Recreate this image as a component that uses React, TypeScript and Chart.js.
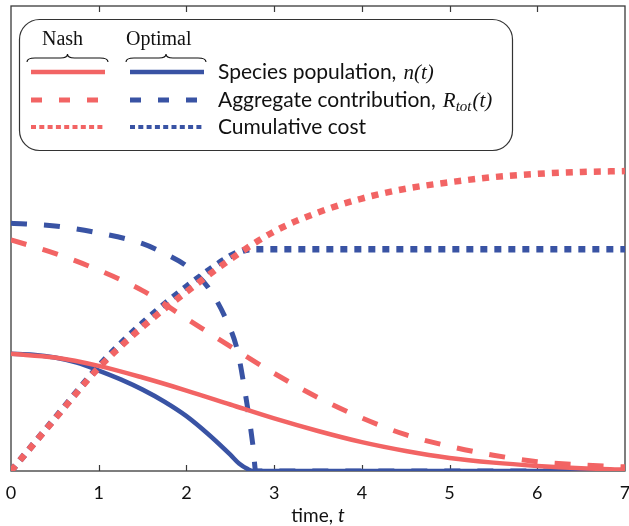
import { useEffect, useRef } from 'react';
import { Chart, registerables } from 'chart.js';

Chart.register(...registerables);

const RED = '#F26464';
const BLUE = '#3953A4';

const xTicks = [0, 1, 2, 3, 4, 5, 6, 7];

const tNashPop = [0, 0.5, 1, 1.5, 2, 2.5, 3, 3.5, 4, 4.5, 5, 5.5, 6, 6.5, 7];
const nashPop = [0.252, 0.244, 0.226, 0.201, 0.173, 0.143, 0.113, 0.086, 0.062, 0.043, 0.028, 0.018, 0.011, 0.006, 0.003];

const tOptPop = [0, 0.25, 0.5, 0.75, 1, 1.25, 1.5, 1.75, 2, 2.25, 2.5, 2.6, 2.7, 2.76, 3, 7];
const optPop = [0.252, 0.25, 0.244, 0.233, 0.216, 0.197, 0.175, 0.149, 0.118, 0.079, 0.035, 0.016, 0.004, 0, 0, 0];

const tNashR = [0, 0.5, 1, 1.5, 2, 2.5, 3, 3.5, 4, 4.5, 5, 5.5, 6, 6.5, 7];
const nashR = [0.497, 0.468, 0.432, 0.388, 0.328, 0.268, 0.21, 0.158, 0.114, 0.078, 0.053, 0.034, 0.02, 0.013, 0.009];

const tOptR = [0, 0.5, 1, 1.5, 1.75, 2, 2.25, 2.45, 2.58, 2.67, 2.76, 2.79, 3, 7];
const optR = [0.533, 0.527, 0.512, 0.489, 0.468, 0.441, 0.394, 0.327, 0.26, 0.168, 0.052, 0, 0, 0];

const tNashCost = [0, 0.5, 1, 1.5, 2, 2.5, 3, 3.5, 4, 4.5, 5, 5.5, 6, 6.5, 7];
const nashCost = [0, 0.112, 0.222, 0.31, 0.385, 0.455, 0.515, 0.556, 0.586, 0.607, 0.621, 0.632, 0.639, 0.643, 0.645];

const tOptCost = [0, 0.5, 1, 1.5, 2, 2.5, 2.6, 2.73, 3, 7];
const optCost = [0, 0.113, 0.225, 0.318, 0.396, 0.462, 0.471, 0.477, 0.477, 0.477];

const toPts = (ts: number[], vs: number[]) => ts.map((t, i) => ({ x: t, y: vs[i] }));

const SANS = 'Lato, "Open Sans", sans-serif';
const SERIF = '"Liberation Serif", "DejaVu Serif", serif';

function brace(ctx: CanvasRenderingContext2D, x1: number, x2: number, yTop: number, yBot: number) {
  const yMid = (yTop + yBot) / 2;
  const xc = (x1 + x2) / 2;
  ctx.beginPath();
  ctx.moveTo(x1, yBot);
  ctx.quadraticCurveTo(x1, yMid, x1 + 8, yMid);
  ctx.lineTo(xc - 7, yMid);
  ctx.quadraticCurveTo(xc, yMid, xc, yTop);
  ctx.quadraticCurveTo(xc, yMid, xc + 7, yMid);
  ctx.lineTo(x2 - 8, yMid);
  ctx.quadraticCurveTo(x2, yMid, x2, yBot);
  ctx.stroke();
}

function sample(ctx: CanvasRenderingContext2D, x1: number, x2: number, y: number, color: string, w: number, dash: number[]) {
  ctx.beginPath();
  ctx.strokeStyle = color;
  ctx.lineWidth = w;
  ctx.lineCap = 'butt';
  ctx.setLineDash(dash);
  ctx.moveTo(x1, y);
  ctx.lineTo(x2, y);
  ctx.stroke();
  ctx.setLineDash([]);
}

const framePlugin = {
  id: 'frame',
  beforeDatasetsDraw(chart: any) {
    const { ctx, chartArea: a, scales } = chart;
    const x = scales.x;
    ctx.save();
    ctx.strokeStyle = '#3a3a3a';
    ctx.lineWidth = 1.3;
    ctx.strokeRect(a.left, a.top, a.right - a.left, a.bottom - a.top);
    ctx.lineWidth = 1.2;
    for (const v of xTicks) {
      if (v === xTicks[0] || v === xTicks[xTicks.length - 1]) continue;
      const px = Math.round(x.getPixelForValue(v)) + 0.5;
      ctx.beginPath();
      ctx.moveTo(px, a.bottom);
      ctx.lineTo(px, a.bottom - 6);
      ctx.moveTo(px, a.top);
      ctx.lineTo(px, a.top + 6);
      ctx.stroke();
    }
    ctx.restore();
  },
  afterDraw(chart: any) {
    const { ctx } = chart;
    ctx.save();
    ctx.beginPath();
    ctx.roundRect(19.5, 19.5, 493, 131, 20);
    ctx.fillStyle = '#ffffff';
    ctx.fill();
    ctx.strokeStyle = '#333';
    ctx.lineWidth = 1.2;
    ctx.stroke();

    ctx.fillStyle = '#111';
    ctx.textBaseline = 'alphabetic';
    ctx.font = `20px ${SERIF}`;
    ctx.fillText('Nash', 42, 45);
    ctx.fillText('Optimal', 126, 45);
    ctx.strokeStyle = '#111';
    ctx.lineWidth = 1.1;
    brace(ctx, 27, 108, 54, 62);
    brace(ctx, 126, 206, 54, 62);

    sample(ctx, 31, 105, 72, RED, 4.5, []);
    sample(ctx, 130, 204, 72, BLUE, 4.5, []);
    sample(ctx, 31, 105, 100, RED, 5, [11, 17]);
    sample(ctx, 130, 204, 100, BLUE, 5, [11, 17]);
    sample(ctx, 31, 105, 127, RED, 4, [5, 3.3]);
    sample(ctx, 130, 204, 127, BLUE, 4, [5, 3.3]);

    const tx = 218;
    const SANSF = `21px ${SANS}`;
    const MATH = `italic 21px ${SERIF}`;
    ctx.fillStyle = '#111';
    ctx.font = SANSF;
    const s1 = 'Species population,';
    ctx.fillText(s1, tx, 79);
    let w = ctx.measureText(s1).width + 7;
    ctx.font = MATH;
    ctx.fillText('n(t)', tx + w, 79);

    ctx.font = SANSF;
    const s2 = 'Aggregate contribution,';
    ctx.fillText(s2, tx, 107);
    w = ctx.measureText(s2).width + 7;
    ctx.font = MATH;
    ctx.fillText('R', tx + w, 107);
    w += ctx.measureText('R').width;
    ctx.font = `italic 15px ${SERIF}`;
    ctx.fillText('tot', tx + w, 111);
    w += ctx.measureText('tot').width + 1;
    ctx.font = MATH;
    ctx.fillText('(t)', tx + w, 107);

    ctx.font = SANSF;
    ctx.fillText('Cumulative cost', tx, 134);

    ctx.font = `19px ${SANS}`;
    const a1 = 'time, ';
    const wa = ctx.measureText(a1).width;
    ctx.font = `italic 19px ${SANS}`;
    const wb = ctx.measureText('t').width;
    const cx = (chart.chartArea.left + chart.chartArea.right) / 2;
    const start = cx - (wa + wb) / 2;
    ctx.font = `19px ${SANS}`;
    ctx.fillText(a1, start, 522);
    ctx.font = `italic 19px ${SANS}`;
    ctx.fillText('t', start + wa, 522);
    ctx.restore();
  },
};

export default function App() {
  const ref = useRef<HTMLCanvasElement | null>(null);

  useEffect(() => {
    document.body.style.margin = '0';
    const canvas = ref.current;
    if (!canvas) return;
    const common = { pointRadius: 0, fill: false, cubicInterpolationMode: 'monotone' as const, borderCapStyle: 'butt' as const };
    const chart = new Chart(canvas, {
      type: 'line',
      data: {
        datasets: [
          { ...common, label: 'Nash cumulative cost', data: toPts(tNashCost, nashCost), borderColor: RED, borderWidth: 6.5, borderDash: [7, 7] },
          { ...common, label: 'Nash species population', data: toPts(tNashPop, nashPop), borderColor: RED, borderWidth: 4.5 },
          { ...common, label: 'Nash aggregate contribution', data: toPts(tNashR, nashR), borderColor: RED, borderWidth: 5, borderDash: [16, 17] },
          { ...common, label: 'Optimal aggregate contribution', data: toPts(tOptR, optR), borderColor: BLUE, borderWidth: 5, borderDash: [16, 17] },
          { ...common, label: 'Optimal species population', data: toPts(tOptPop, optPop), borderColor: BLUE, borderWidth: 4.5 },
          { ...common, label: 'Optimal cumulative cost', data: toPts(tOptCost, optCost), borderColor: BLUE, borderWidth: 6.5, borderDash: [7, 7] },
        ],
      },
      options: {
        responsive: false,
        animation: false,
        layout: { padding: { left: 11, right: 4, top: 6, bottom: 0 } },
        plugins: { legend: { display: false }, tooltip: { enabled: false } },
        scales: {
          x: {
            type: 'linear',
            min: 0,
            max: 7,
            grid: { display: false, drawTicks: false },
            border: { display: false },
            ticks: { stepSize: 1, font: { family: SANS, size: 18 }, color: '#111', padding: 11, maxRotation: 0, autoSkip: false },
            afterFit: (s: any) => {
              s.height = 55;
              s.paddingLeft = 0;
              s.paddingRight = 0;
            },
          },
          y: { display: false, min: 0, max: 1 },
        },
      },
      plugins: [framePlugin],
    });
    return () => chart.destroy();
  }, []);

  return (
    <div style={{ width: 629, height: 526, position: 'relative' }}>
      <canvas ref={ref} width={629} height={526} />
    </div>
  );
}
